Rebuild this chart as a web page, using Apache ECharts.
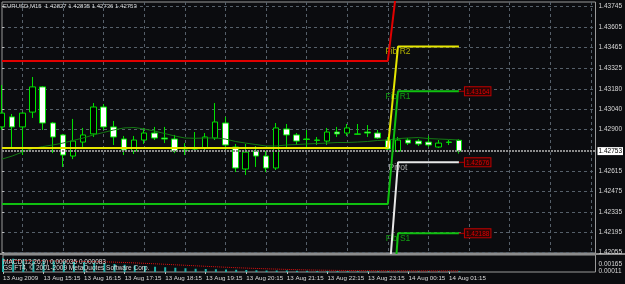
<!DOCTYPE html>
<html>
<head>
<meta charset="utf-8">
<script src="https://cdn.jsdelivr.net/npm/echarts@6/dist/echarts.min.js"></script>
<style>
  html, body { margin: 0; padding: 0; background: #0b0c0f; }
  #chart { width: 625px; height: 284px; }
</style>
</head>
<body>
<div id="chart"></div>
<script>
// EURUSD M15, bars 13 Aug 14:15 .. 14 Aug 01:30
const headerText = 'EURUSD,M15  1.42827 1.42835 1.42736 1.42753';
const macdText1 = 'MACD(12,26,9) 0.000035 0.000083';
const macdText2 = 'GS FT4, \u00a9 2001-2009 MetaQuotes Software Corp.';

const timeLabels = ['13 Aug 2009', '13 Aug 15:15', '13 Aug 16:15', '13 Aug 17:15', '13 Aug 18:15', '13 Aug 19:15',
  '13 Aug 20:15', '13 Aug 21:15', '13 Aug 22:15', '13 Aug 23:15', '14 Aug 00:15', '14 Aug 01:15'];
const timeLabelBars = [0, 4, 8, 12, 16, 20, 24, 28, 32, 36, 40, 44];
const gridBars = [2, 6, 10, 14, 18, 22, 26, 30, 34, 38, 42, 46, 50, 54, 58];
const priceTicks = [1.43745, 1.43605, 1.43465, 1.43325, 1.43180, 1.43040, 1.42900,
  1.42615, 1.42475, 1.42335, 1.42195, 1.42055];
const macdTicks = [0.00165, 0.00011];

// [open, close, low, high]
const candles = [
  [1.42919, 1.43014, 1.42898, 1.43207], [1.42988, 1.42919, 1.42774, 1.43008],
  [1.42919, 1.43014, 1.42726, 1.43021], [1.43021, 1.43194, 1.42981, 1.43262],
  [1.43194, 1.42946, 1.42898, 1.43200], [1.42946, 1.42850, 1.42739, 1.42953],
  [1.42864, 1.42726, 1.42644, 1.42871], [1.42719, 1.42822, 1.42698, 1.42974],
  [1.42815, 1.42864, 1.42774, 1.42912], [1.42871, 1.43056, 1.42850, 1.43083],
  [1.43056, 1.42919, 1.42898, 1.43076], [1.42919, 1.42850, 1.42795, 1.42960],
  [1.42836, 1.42760, 1.42726, 1.42857], [1.42753, 1.42829, 1.42733, 1.42857],
  [1.42829, 1.42877, 1.42802, 1.42912], [1.42877, 1.42843, 1.42829, 1.42919],
  [1.42843, 1.42836, 1.42808, 1.42919], [1.42836, 1.42753, 1.42739, 1.42864],
  [1.42760, 1.42757, 1.42726, 1.42808], [1.42777, 1.42767, 1.42753, 1.42884],
  [1.42774, 1.42850, 1.42760, 1.42877], [1.42843, 1.42953, 1.42829, 1.43083],
  [1.42946, 1.42795, 1.42760, 1.42988], [1.42781, 1.42637, 1.42609, 1.42802],
  [1.42630, 1.42746, 1.42589, 1.42802], [1.42753, 1.42719, 1.42644, 1.42788],
  [1.42719, 1.42637, 1.42609, 1.42753], [1.42637, 1.42912, 1.42623, 1.42946],
  [1.42905, 1.42864, 1.42774, 1.42939], [1.42864, 1.42822, 1.42795, 1.42877],
  [1.42836, 1.42833, 1.42774, 1.42898], [1.42829, 1.42827, 1.42795, 1.42850],
  [1.42822, 1.42884, 1.42795, 1.42912], [1.42884, 1.42871, 1.42850, 1.42919],
  [1.42877, 1.42912, 1.42857, 1.42939], [1.42871, 1.42869, 1.42864, 1.42939],
  [1.42884, 1.42877, 1.42850, 1.42932], [1.42877, 1.42843, 1.42836, 1.42898],
  [1.42829, 1.42767, 1.42760, 1.42850], [1.42753, 1.42829, 1.42746, 1.42850],
  [1.42829, 1.42808, 1.42795, 1.42843], [1.42822, 1.42802, 1.42788, 1.42836],
  [1.42815, 1.42795, 1.42781, 1.42857], [1.42781, 1.42808, 1.42774, 1.42829],
  [1.42815, 1.42813, 1.42795, 1.42829], [1.42827, 1.42753, 1.42736, 1.42835]
];

const maValues = [1.42698, 1.42719, 1.42746, 1.42770, 1.42784, 1.42795, 1.42808, 1.42826, 1.42843, 1.42864,
  1.42881, 1.42898, 1.42912, 1.42915, 1.42905, 1.42891, 1.42874, 1.42857, 1.42843, 1.42841,
  1.42843, 1.42843, 1.42836, 1.42819, 1.42808, 1.42798, 1.42788, 1.42788, 1.42795, 1.42798,
  1.42802, 1.42805, 1.42808, 1.42812, 1.42812, 1.42815, 1.42819, 1.42826, 1.42829, 1.42839,
  1.42843, 1.42846, 1.42839, 1.42836, 1.42833, 1.42829];

// fibo pivot levels: [13 Aug, 14 Aug], bars per day
const dayBars = [39, 7];
const fibR3 = [1.43372, 1.43954];
const fibR2 = [1.42774, 1.43471];
const fibR1 = [1.42390, 1.43164];
const pivot = [1.41780, 1.42676];
const fibS1 = [1.41250, 1.42188];

const macdHist = [0.00270, 0.00265, 0.00255, 0.00250, 0.00245, 0.00235, 0.00225, 0.00210, 0.00195, 0.00185,
  0.00175, 0.00160, 0.00145, 0.00130, 0.00120, 0.00105, 0.00095, 0.00085, 0.00075, 0.00065,
  0.00060, 0.00055, 0.00050, 0.00045, 0.00040, 0.00035, 0.00030, 0.00030, 0.00030, 0.00025,
  0.00025, 0.00020, 0.00020, 0.00020, 0.00018, 0.00018, 0.00018, 0.00016, 0.00016, 0.00015,
  0.00015, 0.00015, 0.00015, 0.00015, 0.00015, 0.00015];
const macdSignal = [0.00231, 0.00230, 0.00228, 0.00226, 0.00224, 0.00221, 0.00218, 0.00215, 0.00211, 0.00207,
  0.00203, 0.00197, 0.00190, 0.00182, 0.00173, 0.00164, 0.00154, 0.00144, 0.00134, 0.00124,
  0.00114, 0.00104, 0.00095, 0.00086, 0.00078, 0.00071, 0.00064, 0.00058, 0.00052, 0.00047,
  0.00042, 0.00038, 0.00035, 0.00032, 0.00030, 0.00028, 0.00027, 0.00026, 0.00025, 0.00024,
  0.00024, 0.00023, 0.00023, 0.00022, 0.00022, 0.00022];

const lime = '#00e000';
const font = 'Liberation Sans, Arial, sans-serif';
const lastClose = candles[candles.length - 1][1];

function levelData(levels) {
  const out = [];
  let idx = 0;
  dayBars.forEach((n, d) => {
    for (let j = 0; j < n; j++) { out.push([idx, levels[d]]); idx++; }
  });
  return out;
}

function pivotSeries(name, levels, color, textColor, withBox, withName) {
  const s = {
    type: 'line', name: name, xAxisIndex: 0, yAxisIndex: 0,
    data: levelData(levels), symbol: 'none', silent: true, z: 5,
    lineStyle: { color: color, width: 2 }
  };
  if (withName) {
    s.markPoint = {
      symbol: 'circle', symbolSize: 0, silent: true, precision: 5,
      data: [{ coord: [dayBars[0], levels[1]] }],
      label: { show: true, position: 'bottom', distance: 1, formatter: name,
        color: textColor, fontSize: 8.5, fontFamily: font }
    };
  }
  if (withBox) {
    s.endLabel = {
      show: true, distance: 0,
      formatter: p => '{c|}{b|' + p.value[1].toFixed(5) + '}',
      rich: {
        c: { width: 6, height: 1, backgroundColor: '#b00000' },
        b: { color: '#e00000', fontSize: 6.5, fontFamily: font, backgroundColor: '#2a0505',
          borderColor: '#c00000', borderWidth: 1, padding: [1, 1, 0, 1] }
      }
    };
  }
  return s;
}

const smallTitle = { color: '#dcdcdc', fontSize: 6.5, fontWeight: 'normal' };

const chart = echarts.init(document.getElementById('chart'));
chart.setOption({
  animation: false,
  backgroundColor: '#0b0c0f',
  textStyle: { fontFamily: font },
  title: [
    { text: headerText, left: 3, top: 3, padding: 0, textStyle: Object.assign({}, smallTitle, { fontSize: 6 }) },
    { text: macdText1, left: 3, top: 259, padding: 0, textStyle: smallTitle },
    { text: macdText2, left: 3, top: 265, padding: 0, textStyle: smallTitle }
  ],
  graphic: [
    { type: 'rect', shape: { x: 0, y: 253, width: 625, height: 2 }, style: { fill: '#8c8c8c' }, silent: true }
  ],
  grid: [
    { left: 2, top: 2, width: 599, height: 251, show: true, borderColor: '#9a9a9a', borderWidth: 1, backgroundColor: 'transparent' },
    { left: 2, top: 255, width: 599, height: 17, show: true, borderColor: '#9a9a9a', borderWidth: 1, backgroundColor: 'transparent' }
  ],
  xAxis: [
    { type: 'value', gridIndex: 0, min: 0, max: 58.45,
      axisLine: { show: false }, axisLabel: { show: false },
      axisTick: { show: false, customValues: gridBars },
      splitLine: { show: true, lineStyle: { color: '#56606a', type: [3, 3], width: 1 } } },
    { type: 'value', gridIndex: 1, min: 0, max: 58.45, position: 'bottom',
      axisLine: { show: false },
      axisTick: { show: true, customValues: timeLabelBars, length: 2, lineStyle: { color: '#bbbbbb' } },
      axisLabel: { customValues: timeLabelBars, formatter: v => timeLabels[timeLabelBars.indexOf(v)],
        color: '#dcdcdc', fontSize: 6.2, align: 'left', margin: 3, hideOverlap: false,
        showMinLabel: true, showMaxLabel: true },
      splitLine: { show: false } }
  ],
  yAxis: [
    { type: 'value', gridIndex: 0, position: 'right', min: 1.420529, max: 1.437773,
      axisLine: { show: false },
      axisTick: { show: true, customValues: priceTicks, length: 2, lineStyle: { color: '#bbbbbb' } },
      axisLabel: { customValues: priceTicks, formatter: v => v.toFixed(5), color: '#d8d8d8', fontSize: 6.5, margin: 3 },
      splitLine: { show: true, lineStyle: { color: '#56606a', type: [3, 3], width: 1 } } },
    { type: 'value', gridIndex: 1, position: 'right', min: 0, max: 0.0034,
      axisLine: { show: false },
      axisTick: { show: false, customValues: macdTicks },
      axisLabel: { customValues: macdTicks, formatter: v => v.toFixed(5), color: '#d8d8d8', fontSize: 6.5, margin: 3 },
      splitLine: { show: false } }
  ],
  series: [
    {
      type: 'candlestick', xAxisIndex: 0, yAxisIndex: 0, z: 3,
      data: candles.map((c, i) => [i, c[0], c[1], c[2], c[3]]),
      encode: { x: 0, y: [1, 2, 3, 4] },
      barWidth: 6,
      itemStyle: { color: '#000000', color0: '#ffffff', borderColor: lime, borderColor0: lime, borderWidth: 1 }
    },
    {
      type: 'line', name: 'MA', xAxisIndex: 0, yAxisIndex: 0, z: 4, symbol: 'none', silent: true,
      data: maValues.map((v, i) => [i, v]),
      lineStyle: { color: '#137a13', width: 1 },
      markLine: {
        symbol: 'none', silent: true, precision: 5,
        data: [{ yAxis: lastClose }],
        lineStyle: { color: '#8c8c8c', width: 2, type: [2, 1] },
        label: { position: 'end', distance: 2, formatter: lastClose.toFixed(5), color: '#000', backgroundColor: '#ffffff',
          fontSize: 6.5, padding: [1, 1, 0, 1] }
      }
    },
    pivotSeries('Fib R3', fibR3, '#e00000', '#e00000', false, false),
    pivotSeries('Fib R2', fibR2, '#e6e600', '#b4b400', false, true),
    pivotSeries('Fib R1', fibR1, '#10c010', '#12a012', true, true),
    pivotSeries('Pivot', pivot, '#e8e8e8', '#b0b0b0', true, true),
    pivotSeries('Fib S1', fibS1, '#10c010', '#12a012', true, true),
    {
      type: 'bar', xAxisIndex: 1, yAxisIndex: 1, barWidth: 2, silent: true,
      data: macdHist.map((v, i) => [i, v]),
      itemStyle: { color: '#20b2aa' }
    },
    {
      type: 'line', xAxisIndex: 1, yAxisIndex: 1, symbol: 'none', silent: true,
      data: macdSignal.map((v, i) => [i, v]),
      lineStyle: { color: '#e01010', width: 1, type: 'dotted' }
    }
  ]
});
</script>
</body>
</html>
